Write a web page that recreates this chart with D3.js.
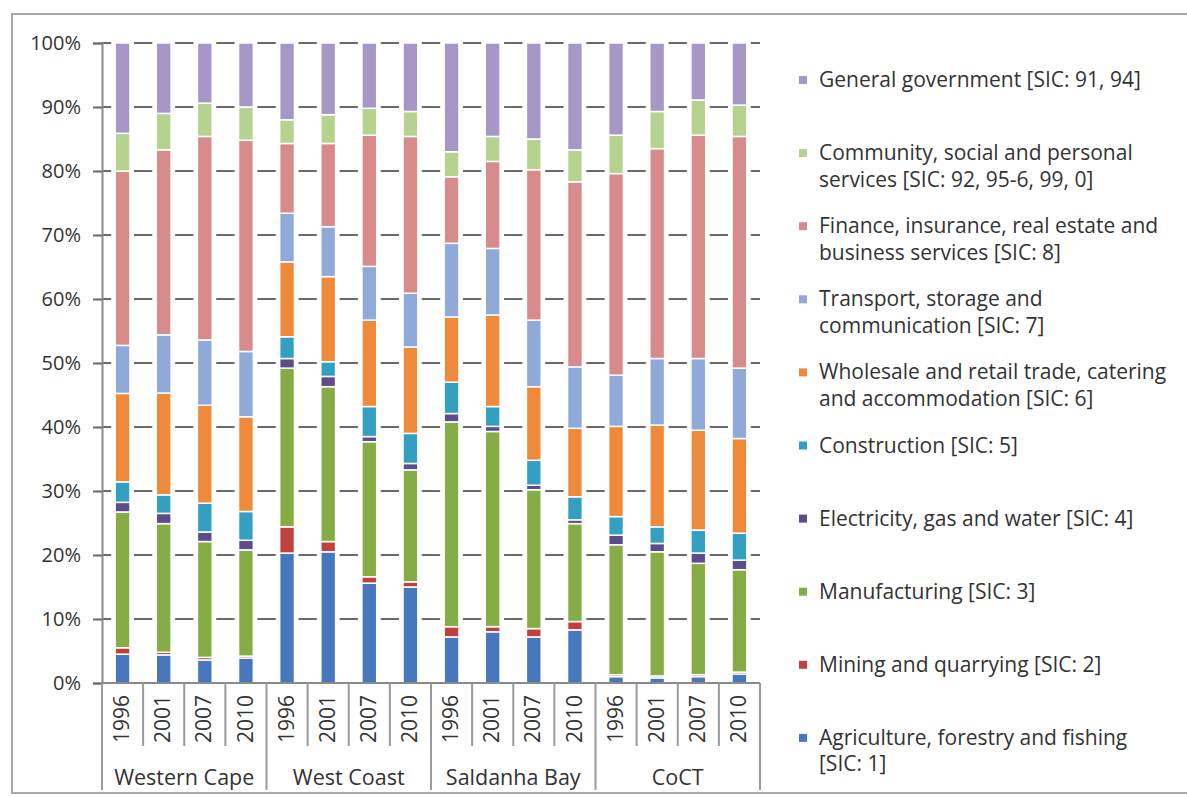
<!DOCTYPE html>
<html>
<head>
<meta charset="utf-8">
<script src="https://cdn.jsdelivr.net/npm/d3@7"></script>
<style>
  body { margin: 0; background: #fff; }
  text { font-family: "Open Sans", Lato, sans-serif; fill: #333; }
</style>
</head>
<body>
<div class="container"></div>
<script>
// categories
var years = ["1996","2001","2007","2010","1996","2001","2007","2010",
             "1996","2001","2007","2010","1996","2001","2007","2010"];
var regions = ["Western Cape", "West Coast", "Saldanha Bay", "CoCT"];
var tickValues = [0, 0.1, 0.2, 0.3, 0.4, 0.5, 0.6, 0.7, 0.8, 0.9, 1];

// share of GDP by sector (%), one value per bar
var agriculture   = [4.5, 4.4, 3.6, 3.9, 20.3, 20.5, 15.6, 15.0, 7.2, 8.0, 7.2, 8.3, 1.0, 0.8, 1.0, 1.4];
var mining        = [1.0, 0.4, 0.4, 0.3, 4.1, 1.6, 1.0, 0.8, 1.6, 0.8, 1.3, 1.3, 0.3, 0.3, 0.3, 0.3];
var manufacturing = [21.2, 20.1, 18.1, 16.6, 24.8, 24.2, 21.1, 17.5, 32.0, 30.5, 21.7, 15.3, 20.3, 19.4, 17.4, 16.0];
var electricity   = [1.5, 1.6, 1.5, 1.5, 1.5, 1.6, 0.8, 1.0, 1.3, 0.8, 0.7, 0.6, 1.5, 1.3, 1.6, 1.5];
var construction  = [3.2, 2.9, 4.5, 4.5, 3.4, 2.3, 4.7, 4.7, 4.9, 3.1, 3.9, 3.6, 2.9, 2.6, 3.6, 4.2];
var wholesale     = [13.8, 15.9, 15.3, 14.8, 11.7, 13.3, 13.5, 13.5, 10.2, 14.3, 11.5, 10.7, 14.1, 15.9, 15.6, 14.8];
var transport     = [7.5, 9.1, 10.2, 10.2, 7.6, 7.8, 8.4, 8.4, 11.5, 10.4, 10.4, 9.6, 8.0, 10.4, 11.2, 11.0];
var finance       = [27.2, 28.9, 31.8, 33.0, 10.9, 13.0, 20.5, 24.5, 10.4, 13.6, 23.5, 28.9, 31.5, 32.8, 34.9, 36.2];
var community     = [5.9, 5.7, 5.2, 5.2, 3.7, 4.5, 4.2, 3.9, 3.9, 3.9, 4.8, 5.0, 6.0, 5.8, 5.5, 4.9];
var government    = [14.1, 11.0, 9.4, 10.0, 12.0, 11.2, 10.2, 10.7, 17.0, 14.6, 15.0, 16.7, 14.4, 10.7, 8.9, 9.7];

var seriesNames = ["agriculture","mining","manufacturing","electricity","construction",
                   "wholesale","transport","finance","community","government"];
var seriesValues = [agriculture, mining, manufacturing, electricity, construction,
                    wholesale, transport, finance, community, government];
var legendLabels = [
  ["Agriculture, forestry and fishing", "[SIC: 1]"],
  ["Mining and quarrying [SIC: 2]"],
  ["Manufacturing [SIC: 3]"],
  ["Electricity, gas and water [SIC: 4]"],
  ["Construction [SIC: 5]"],
  ["Wholesale and retail trade, catering", "and accommodation [SIC: 6]"],
  ["Transport, storage and", "communication [SIC: 7]"],
  ["Finance, insurance, real estate and", "business services [SIC: 8]"],
  ["Community, social and personal", "services [SIC: 92, 95-6, 99, 0]"],
  ["General government [SIC: 91, 94]"]
];
var colors = ["#4777bd", "#c0403d", "#86ad45", "#5d4b8e", "#33a0c2",
              "#ee8a3a", "#8fa9d8", "#d78b8a", "#b6d28f", "#a797c7"];

var chartW = 1187, chartH = 797;
var plotLeft = 102, plotRight = 760, plotTop = 43, plotBottom = 683;

function init() {
    var svg = d3.select(".container").append("svg")
        .attr("width", chartW)
        .attr("height", chartH);

    // outer frame
    svg.append("rect")
        .attr("x", 12).attr("y", 14)
        .attr("width", 1185).attr("height", 779)
        .attr("fill", "none")
        .attr("stroke", "#a8a8a8")
        .attr("stroke-width", 2);

    var rows = years.map(function(y, i) {
        var row = {idx: i};
        seriesNames.forEach(function(k, j) { row[k] = seriesValues[j][i]; });
        return row;
    });

    var stacked = d3.stack()
        .keys(seriesNames)
        .offset(d3.stackOffsetExpand)(rows);

    var x = d3.scaleBand()
        .domain(d3.range(years.length))
        .range([plotLeft, plotRight])
        .paddingInner(0.64)
        .paddingOuter(0.32);

    var y = d3.scaleLinear().domain([0, 1]).range([plotBottom, plotTop]);

    // gridlines
    svg.append("g")
        .selectAll("line")
        .data(tickValues.slice(1))
        .enter()
        .append("line")
        .attr("x1", plotLeft).attr("x2", plotRight)
        .attr("y1", function(d) { return y(d); })
        .attr("y2", function(d) { return y(d); })
        .attr("stroke", "#6a6a6a")
        .attr("stroke-width", 2);

    // y axis
    var yAxis = svg.append("g")
        .attr("transform", "translate(" + plotLeft + ",0)")
        .call(d3.axisLeft(y).tickValues(tickValues).tickFormat(d3.format(".0%")).tickSize(9).tickPadding(12));
    yAxis.select(".domain").attr("stroke", "#8a8a8a").attr("stroke-width", 2);
    yAxis.selectAll(".tick line").attr("stroke", "#6a6a6a").attr("stroke-width", 2);
    yAxis.selectAll(".tick text")
        .style("font-family", "'Open Sans', sans-serif")
        .attr("font-size", 20)
        .attr("fill", "#333");

    // white halo behind each bar (breaks the gridlines)
    svg.append("g")
        .selectAll("rect")
        .data(rows)
        .enter()
        .append("rect")
        .attr("x", function(d) { return x(d.idx) - 4; })
        .attr("width", x.bandwidth() + 8)
        .attr("y", y(1) - 2)
        .attr("height", y(0) - y(1) + 1)
        .attr("fill", "#fff");

    // stacked segments
    var layers = svg.append("g")
        .selectAll("g")
        .data(stacked)
        .enter()
        .append("g")
        .attr("fill", function(d, i) { return colors[i]; });

    layers.selectAll("rect")
        .data(function(d) { return d; })
        .enter()
        .append("rect")
        .attr("x", function(d) { return x(d.data.idx); })
        .attr("width", x.bandwidth())
        .attr("y", function(d) { return y(d[1]); })
        .attr("height", function(d) { return Math.max(0, y(d[0]) - y(d[1])); })
        .attr("stroke", "#fff")
        .attr("stroke-width", 1.5);

    // x axis line
    svg.append("line")
        .attr("x1", plotLeft).attr("x2", plotRight)
        .attr("y1", plotBottom).attr("y2", plotBottom)
        .attr("stroke", "#8a8a8a")
        .attr("stroke-width", 2);

    // category separators
    var step = x.step();
    var bounds = d3.range(years.length + 1);
    svg.append("g")
        .selectAll("line")
        .data(bounds)
        .enter()
        .append("line")
        .attr("x1", function(i) { return plotLeft + i * step; })
        .attr("x2", function(i) { return plotLeft + i * step; })
        .attr("y1", plotBottom)
        .attr("y2", function(i) { return i % 4 === 0 ? 790 : 746; })
        .attr("stroke", "#9a9a9a")
        .attr("stroke-width", 2);

    // year labels
    svg.append("g")
        .selectAll("text")
        .data(years)
        .enter()
        .append("text")
        .attr("transform", function(d, i) {
            return "translate(" + (x(i) + x.bandwidth() / 2 + 1) + ",719) rotate(-90)";
        })
        .attr("text-anchor", "middle")
        .attr("dominant-baseline", "middle")
        .attr("font-size", 21)
        .text(function(d) { return d; });

    // region labels
    svg.append("g")
        .selectAll("text")
        .data(regions)
        .enter()
        .append("text")
        .attr("x", function(d, i) { return plotLeft + (i * 4 + 2) * step; })
        .attr("y", 785)
        .attr("text-anchor", "middle")
        .attr("font-size", 21.5)
        .text(function(d) { return d; });

    // legend, top entry is the last series
    var legend = svg.append("g")
        .selectAll("g")
        .data(d3.range(seriesNames.length).reverse())
        .enter()
        .append("g")
        .attr("transform", function(d, i) { return "translate(799," + (80 + i * 73.1) + ")"; });

    legend.append("rect")
        .attr("x", 0).attr("y", -4)
        .attr("width", 8).attr("height", 8)
        .attr("fill", function(d) { return colors[d]; });

    legend.append("text")
        .attr("x", 20)
        .attr("font-size", 21)
        .selectAll("tspan")
        .data(function(d) { return legendLabels[d]; })
        .enter()
        .append("tspan")
        .attr("x", 20)
        .attr("y", function(d, i) { return 7 + i * 26.5; })
        .text(function(d) { return d; });
}

init();
</script>
</body>
</html>
